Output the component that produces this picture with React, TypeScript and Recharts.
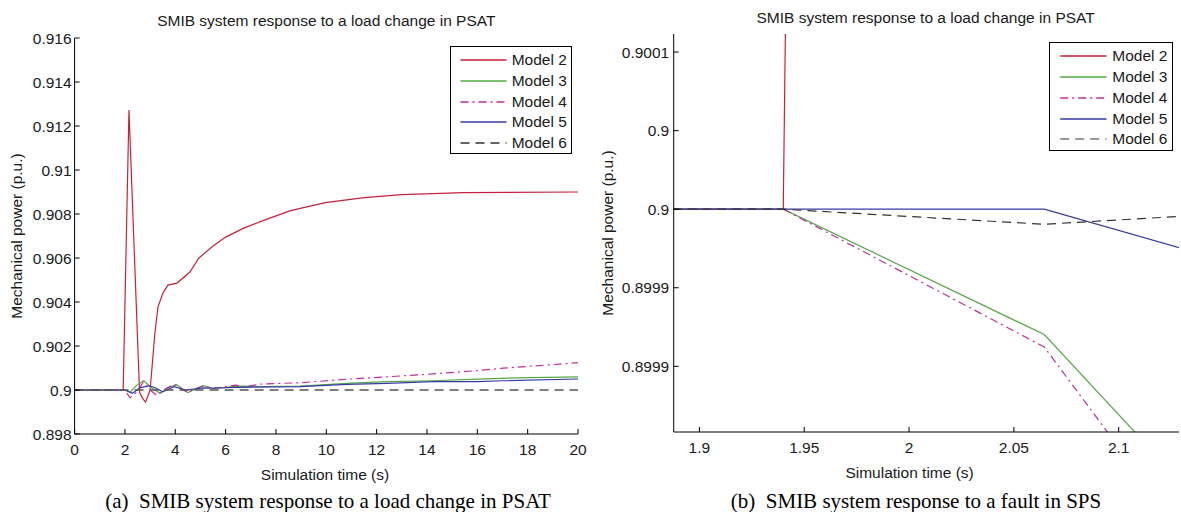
import { Legend, Line, LineChart, XAxis, YAxis } from "recharts";

const FONT = '"Liberation Sans", Arial, Helvetica, sans-serif';
const SERIF = '"Liberation Serif", "Times New Roman", serif';
const TEXT = "#1a1a1a";

// ─── Series styling (same five models in both panels) ────────────────────────

const MODEL_NAMES = ["Model 2", "Model 3", "Model 4", "Model 5", "Model 6"];
const MODEL_COLORS = ["#c8203c", "#55a844", "#c22d9d", "#3a3aa6", "#333333"];
const MODEL_DASHES = [undefined, undefined, "8 4 2 4", undefined, "9 6"];

// ─── (a) load change in PSAT, 0–20 s ─────────────────────────────────────────

const loadTicksX = [0, 2, 4, 6, 8, 10, 12, 14, 16, 18, 20];
const loadTicksY = [0.898, 0.9, 0.902, 0.904, 0.906, 0.908, 0.91, 0.912, 0.914, 0.916];

const loadM2Time = [0, 1.93, 2.16, 2.58, 2.7, 2.82, 3.0, 3.19, 3.31, 3.51, 3.71, 4.07, 4.58, 4.94, 5.45, 6.0, 6.76, 7.67, 8.58, 9.96, 11.5, 13.0, 15.45, 20];
const loadM2Power = [0.9, 0.9, 0.91273, 0.89991, 0.89962, 0.89945, 0.9, 0.90259, 0.90377, 0.90441, 0.90477, 0.90486, 0.90536, 0.906, 0.9065, 0.90695, 0.90738, 0.90778, 0.90815, 0.90852, 0.90874, 0.90888, 0.90897, 0.909];

const loadM3Time = [0, 2.0, 2.2, 2.45, 2.75, 3.05, 3.4, 3.75, 4.05, 4.5, 4.8, 5.1, 5.5, 6.0, 6.5, 7.5, 8.96, 10.82, 12.41, 14.24, 15.99, 17.5, 20];
const loadM3Power = [0.9, 0.9, 0.8999, 0.9002, 0.90042, 0.9001, 0.89985, 0.90012, 0.90024, 0.89988, 0.90005, 0.9002, 0.90008, 0.90012, 0.90018, 0.90016, 0.90018, 0.9003, 0.90038, 0.90042, 0.90049, 0.90055, 0.9006];

const loadM4Time = [0, 2.0, 2.2, 2.45, 2.72, 3.0, 3.27, 3.6, 3.95, 4.25, 4.48, 4.8, 5.1, 5.5, 6.0, 6.4, 6.8, 7.37, 8.96, 10.82, 12.41, 14.24, 15.99, 17.02, 20];
const loadM4Power = [0.9, 0.9, 0.89964, 0.8999, 0.90033, 0.9, 0.89975, 0.90005, 0.90027, 0.90005, 0.8999, 0.90005, 0.90018, 0.90008, 0.90015, 0.90022, 0.90015, 0.90027, 0.90033, 0.90049, 0.9006, 0.90073, 0.90088, 0.90099, 0.90124];

const loadM5Time = [0, 2.0, 2.3, 2.6, 2.96, 3.2, 3.5, 3.95, 4.4, 4.8, 5.1, 5.5, 6.29, 8.96, 10.82, 12.41, 14.24, 15.99, 17.02, 20];
const loadM5Power = [0.9, 0.9, 0.89985, 0.9001, 0.9002, 0.9001, 0.89992, 0.90015, 0.9, 0.90005, 0.9001, 0.90008, 0.90012, 0.90015, 0.90026, 0.9003, 0.90038, 0.90038, 0.90042, 0.9005];

const loadM6Time = [0, 20];
const loadM6Power = [0.9, 0.9];

// ─── (b) fault in SPS, zoomed around t = 2 s ─────────────────────────────────

const faultTicksX = [1.9, 1.95, 2, 2.05, 2.1];
const faultTicksY = [0.8999, 0.89995, 0.9, 0.90005, 0.9001];
const faultTickLabelsY = ["0.8999", "0.8999", "0.9", "0.9", "0.9001"];

const faultM2Time = [1.88, 1.94, 1.9415];
const faultM2Power = [0.9, 0.9, 0.900167];

const faultM3Time = [1.88, 1.94, 2.0645, 2.14];
const faultM3Power = [0.9, 0.9, 0.8999202, 0.8998118];

const faultM4Time = [1.88, 1.94, 2.0645, 2.14];
const faultM4Power = [0.9, 0.9, 0.8999123, 0.8997766];

const faultM5Time = [1.88, 2.0645, 2.13];
const faultM5Power = [0.9, 0.9, 0.8999751];

const faultM6Time = [1.88, 1.94, 2.0645, 2.13];
const faultM6Power = [0.9, 0.9, 0.8999904, 0.8999955];

// ─── helpers ─────────────────────────────────────────────────────────────────

type Pt = { t: number; v: number };

function zip(t: number[], v: number[]): Pt[] {
  return t.map((x, i) => ({ t: x, v: v[i] }));
}

const loadSeries = [
  zip(loadM2Time, loadM2Power),
  zip(loadM3Time, loadM3Power),
  zip(loadM4Time, loadM4Power),
  zip(loadM5Time, loadM5Power),
  zip(loadM6Time, loadM6Power),
];

const faultSeries = [
  zip(faultM2Time, faultM2Power),
  zip(faultM3Time, faultM3Power),
  zip(faultM4Time, faultM4Power),
  zip(faultM5Time, faultM5Power),
  zip(faultM6Time, faultM6Power),
];

const tickStyle = { fill: TEXT, fontSize: 15.5, fontFamily: FONT } as const;

type LegendPos = { left: number; top: number; width: number; height: number; lineX1: number; lineX2: number; textX: number };

function LegendBox({ pos, dashWidth }: { pos: LegendPos; dashWidth: number }) {
  return (
    <div
      style={{
        position: "relative",
        width: pos.width,
        height: pos.height,
        boxSizing: "border-box",
        border: "1.2px solid #000",
        background: "#fff",
        fontFamily: FONT,
        fontSize: 15.5,
        color: TEXT,
      }}
    >
      {MODEL_NAMES.map((name, i) => (
        <div
          key={name}
          style={{ position: "absolute", left: 0, top: 13 + i * 20.8 - 10, height: 20, width: "100%" }}
        >
          <svg width={pos.width} height={20} style={{ position: "absolute", left: 0, top: 0 }}>
            <line
              x1={pos.lineX1}
              x2={pos.lineX2}
              y1={10}
              y2={10}
              stroke={MODEL_COLORS[i]}
              strokeWidth={i === 4 ? dashWidth : 1.3}
              strokeDasharray={MODEL_DASHES[i]}
            />
          </svg>
          <span style={{ position: "absolute", left: pos.textX, top: 0, lineHeight: "20px", whiteSpace: "nowrap" }}>
            {name}
          </span>
        </div>
      ))}
    </div>
  );
}

type PanelProps = {
  width: number;
  margin: { top: number; right: number; bottom: number; left: number };
  xDomain: [number, number];
  yDomain: [number, number];
  xTicks: number[];
  yTicks: number[];
  fmtX: (v: number) => string;
  fmtY: (v: number) => string;
  yTickMargin: number;
  series: Pt[][];
  legend: LegendPos;
  dashColor: string;
  dashWidth: number;
};

function Panel(p: PanelProps) {
  return (
    <LineChart width={p.width} height={512} margin={p.margin}>
      <XAxis
        xAxisId="b"
        type="number"
        dataKey="t"
        domain={p.xDomain}
        ticks={p.xTicks}
        allowDataOverflow
        interval={0}
        tickFormatter={p.fmtX}
        tickSize={-5}
        tickMargin={15}
        height={30}
        stroke="#000"
        tick={tickStyle}
      />
      <XAxis
        xAxisId="top"
        orientation="top"
        type="number"
        dataKey="t"
        domain={p.xDomain}
        ticks={p.xTicks}
        allowDataOverflow
        interval={0}
        tickFormatter={() => ""}
        tickSize={-5}
        height={0}
        stroke="#000"
      />
      <YAxis
        yAxisId="l"
        type="number"
        domain={p.yDomain}
        ticks={p.yTicks}
        allowDataOverflow
        interval={0}
        tickFormatter={p.fmtY}
        tickSize={-5}
        tickMargin={p.yTickMargin}
        width={60}
        stroke="#000"
        tick={tickStyle}
      />
      <YAxis
        yAxisId="r"
        orientation="right"
        type="number"
        domain={p.yDomain}
        ticks={p.yTicks}
        allowDataOverflow
        interval={0}
        tickFormatter={() => ""}
        tickSize={-5}
        width={0}
        stroke="#000"
      />
      {p.series.map((pts, i) => (
        <Line
          key={MODEL_NAMES[i]}
          name={MODEL_NAMES[i]}
          xAxisId="b"
          yAxisId="l"
          data={pts}
          dataKey="v"
          type="linear"
          stroke={i === 4 ? p.dashColor : MODEL_COLORS[i]}
          strokeWidth={i === 4 ? p.dashWidth : 1.2}
          strokeDasharray={MODEL_DASHES[i]}
          dot={false}
          activeDot={false}
          isAnimationActive={false}
        />
      ))}
      <Legend
        layout="horizontal"
        verticalAlign="middle"
        align="center"
        wrapperStyle={{ left: p.legend.left, top: p.legend.top, width: p.legend.width, height: p.legend.height }}
        content={() => <LegendBox pos={p.legend} dashWidth={p.dashWidth} />}
      />
    </LineChart>
  );
}

function Txt({ x, y, children, size = 15.5, serif = false, rotate = false }: { x: number; y: number; children: string; size?: number; serif?: boolean; rotate?: boolean }) {
  return (
    <div
      style={{
        position: "absolute",
        left: x,
        top: y,
        transform: `translate(-50%, -50%)${rotate ? " rotate(-90deg)" : ""}`,
        whiteSpace: "pre",
        fontFamily: serif ? SERIF : FONT,
        fontSize: size,
        color: serif ? "#000" : TEXT,
        lineHeight: 1,
      }}
    >
      {children}
    </div>
  );
}

export default function App() {
  return (
    <div style={{ position: "absolute", left: 0, top: 0, width: 1181, height: 512, background: "#fff", overflow: "hidden" }}>
      <div style={{ position: "absolute", left: 0, top: 0 }}>
        <Panel
          width={590}
          margin={{ top: 38, right: 12, bottom: 48, left: 14.6 }}
          xDomain={[0, 20]}
          yDomain={[0.898, 0.916]}
          xTicks={loadTicksX}
          yTicks={loadTicksY}
          fmtX={(v) => String(v)}
          fmtY={(v) => String(Number(v.toFixed(3)))}
          yTickMargin={8}
          series={loadSeries}
          legend={{ left: 449.7, top: 46, width: 122, height: 108, lineX1: 9.5, lineX2: 55.5, textX: 61 }}
          dashColor="#555"
          dashWidth={1.6}
        />
      </div>
      <div style={{ position: "absolute", left: 590, top: 0 }}>
        <Panel
          width={591}
          margin={{ top: 34, right: 2, bottom: 50, left: 23.7 }}
          xDomain={[1.88774, 2.12877]}
          yDomain={[0.8998582, 0.9001115]}
          xTicks={faultTicksX}
          yTicks={faultTicksY}
          fmtX={(v) => String(v)}
          fmtY={(v) => faultTickLabelsY[faultTicksY.indexOf(v)] ?? String(v)}
          yTickMargin={9.5}
          series={faultSeries}
          legend={{ left: 459.3, top: 42.3, width: 123.3, height: 108.4, lineX1: 10.2, lineX2: 56.5, textX: 62 }}
          dashColor="#333"
          dashWidth={1.2}
        />
      </div>

      <Txt x={326.3} y={21}>SMIB system response to a load change in PSAT</Txt>
      <Txt x={16.5} y={236} rotate>Mechanical power (p.u.)</Txt>
      <Txt x={325} y={475}>Simulation time (s)</Txt>
      <Txt x={328} y={501} size={21} serif>{"(a)  SMIB system response to a load change in PSAT"}</Txt>

      <Txt x={925.6} y={18}>SMIB system response to a load change in PSAT</Txt>
      <Txt x={607.5} y={233} rotate>Mechanical power (p.u.)</Txt>
      <Txt x={909.6} y={472.7}>Simulation time (s)</Txt>
      <Txt x={916} y={501} size={21} serif>{"(b)  SMIB system response to a fault in SPS"}</Txt>
    </div>
  );
}
